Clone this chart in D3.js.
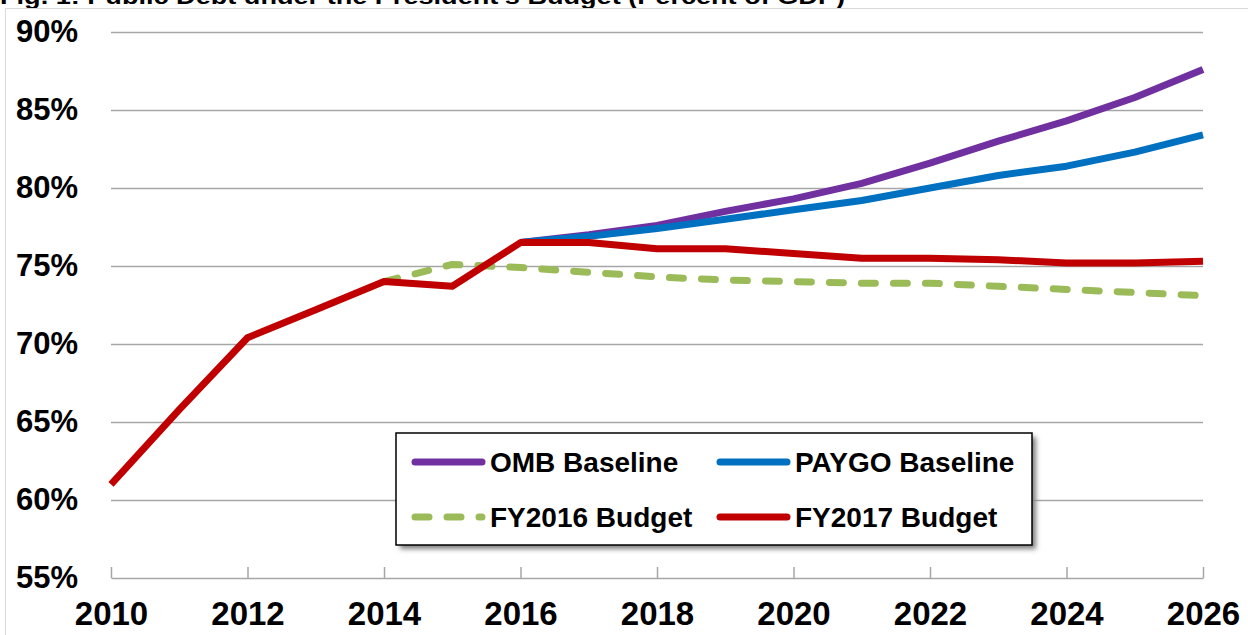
<!DOCTYPE html>
<html>
<head>
<meta charset="utf-8">
<script src="https://cdn.jsdelivr.net/npm/d3@7"></script>
<style>
  body { margin: 0; background: #fff; }
  svg { display: block; }
  text { font-family: "Liberation Sans Narrow", "Arial Narrow", "Liberation Sans", Arial, sans-serif; font-weight: bold; fill: #000; }
</style>
</head>
<body>
<svg class="debt" width="1248" height="635"></svg>
<script>
// years on the x axis
const years = d3.range(2010, 2027);
const xTicks = [2010, 2012, 2014, 2016, 2018, 2020, 2022, 2024, 2026];
const yTicks = [55, 60, 65, 70, 75, 80, 85, 90];

// percent of GDP
const fy2017 = [61.0, 65.8, 70.4, 72.2, 74.0, 73.7, 76.5, 76.5, 76.1, 76.1, 75.8, 75.5, 75.5, 75.4, 75.2, 75.2, 75.3];
const fy2016Years = d3.range(2014, 2027);
const fy2016 = [74.0, 75.1, 74.9, 74.6, 74.3, 74.1, 74.0, 73.9, 73.9, 73.7, 73.5, 73.3, 73.1];
const baseYears = d3.range(2016, 2027);
const omb = [76.5, 77.0, 77.6, 78.5, 79.3, 80.3, 81.6, 83.0, 84.3, 85.8, 87.6];
const paygo = [76.5, 76.9, 77.4, 78.0, 78.6, 79.2, 80.0, 80.8, 81.4, 82.3, 83.4];

const OMB_COLOR = "#7030a0";
const PAYGO_COLOR = "#0070c0";
const FY16_COLOR = "#9bbb59";
const FY17_COLOR = "#c00000";

var svg = d3.select("svg.debt"),
  margin = { top: 32, right: 45, bottom: 57, left: 111 },
  width = +svg.attr("width") - margin.left - margin.right,
  height = +svg.attr("height") - margin.top - margin.bottom;

// title, mostly cut off at the top edge
svg.append("text")
  .attr("x", 0)
  .attr("y", 4)
  .attr("textLength", 845)
  .attr("lengthAdjust", "spacingAndGlyphs")
  .style("font-family", "'Liberation Sans', Arial, sans-serif")
  .style("font-size", "22px")
  .text("Fig. 1: Public Debt under the President\u2019s Budget (Percent of GDP)");

// chart frame
svg.append("path")
  .attr("d", "M5.5,635 V8.5 H1248")
  .attr("fill", "none")
  .attr("stroke", "#d9d9d9")
  .attr("stroke-width", 1);

const chartG = svg.append("g")
  .attr("transform", `translate(${margin.left}, ${margin.top})`);

const xScale = d3.scaleLinear().domain([2010, 2026]).range([0, width]);
const yScale = d3.scaleLinear().domain([55, 90]).range([height, 0]);

// gridlines + y labels
var yAxis = d3.axisLeft(yScale)
  .tickValues(yTicks)
  .tickSize(-width)
  .tickPadding(33)
  .tickFormat((d) => d + "%");

chartG.append("g")
  .attr("class", "y axis")
  .call(yAxis)
  .call((g) => g.select(".domain").remove())
  .call((g) => g.selectAll(".tick line")
    .attr("stroke", "#a6a6a6")
    .attr("stroke-width", 1.5))
  .call((g) => g.select(".tick:first-of-type line").remove())
  .call((g) => g.selectAll(".tick text")
    .attr("fill", "#000")
    .style("font-size", "31px"));

// x axis, ticks point up
var xAxis = d3.axisBottom(xScale)
  .tickValues(xTicks)
  .tickSizeInner(-11)
  .tickSizeOuter(0)
  .tickPadding(24)
  .tickFormat(d3.format("d"));

chartG.append("g")
  .attr("class", "x axis")
  .attr("transform", `translate(0, ${height})`)
  .call(xAxis)
  .call((g) => g.select(".domain").attr("stroke", "#a6a6a6").attr("stroke-width", 1.5))
  .call((g) => g.selectAll(".tick line").attr("stroke", "#a6a6a6").attr("stroke-width", 1.5))
  .call((g) => g.selectAll(".tick text")
    .attr("fill", "#000")
    .style("font-size", "33px"));

const line = d3.line()
  .x((d) => xScale(d[0]))
  .y((d) => yScale(d[1]));

const series = [
  { name: "FY2016 Budget", color: FY16_COLOR, dash: "14,18", pts: d3.zip(fy2016Years, fy2016) },
  { name: "OMB Baseline", color: OMB_COLOR, dash: null, pts: d3.zip(baseYears, omb) },
  { name: "PAYGO Baseline", color: PAYGO_COLOR, dash: null, pts: d3.zip(baseYears, paygo) },
  { name: "FY2017 Budget", color: FY17_COLOR, dash: null, pts: d3.zip(years, fy2017) }
];

chartG.selectAll("path.series")
  .data(series)
  .enter()
  .append("path")
  .attr("class", "series")
  .attr("d", (d) => line(d.pts))
  .attr("fill", "none")
  .attr("stroke", (d) => d.color)
  .attr("stroke-width", 7)
  .attr("stroke-linejoin", "round")
  .attr("stroke-linecap", (d) => d.dash ? "round" : "butt")
  .attr("stroke-dasharray", (d) => d.dash);

// LEGEND
const legendX = 396, legendY = 433, legendW = 636, legendH = 112;
const defs = svg.append("defs");
const shadow = defs.append("filter").attr("id", "shadow")
  .attr("x", "-5%").attr("y", "-10%").attr("width", "115%").attr("height", "130%");
shadow.append("feGaussianBlur").attr("stdDeviation", 2.5);

const legend = svg.append("g");
legend.append("rect")
  .attr("x", legendX + 4)
  .attr("y", legendY + 4)
  .attr("width", legendW)
  .attr("height", legendH)
  .attr("fill", "#808080")
  .attr("filter", "url(#shadow)");
legend.append("rect")
  .attr("x", legendX)
  .attr("y", legendY)
  .attr("width", legendW)
  .attr("height", legendH)
  .attr("fill", "#fff")
  .attr("stroke", "#000")
  .attr("stroke-width", 1.5);

const legendOrder = [series[1], series[2], series[0], series[3]];
const item = legend.selectAll("g.item")
  .data(legendOrder)
  .enter()
  .append("g")
  .attr("class", "item")
  .attr("transform", (d, i) => `translate(${legendX + 16 + (i % 2) * 305}, ${legendY + 29 + Math.floor(i / 2) * 55})`);

item.append("line")
  .attr("x1", 3).attr("x2", 70)
  .attr("stroke", (d) => d.color)
  .attr("stroke-width", 7)
  .attr("stroke-linecap", "round")
  .attr("stroke-dasharray", (d) => d.dash ? "14,18" : null);

item.append("text")
  .attr("x", 78)
  .attr("dy", "0.35em")
  .style("font-size", "28px")
  .text((d) => d.name);
</script>
</body>
</html>
